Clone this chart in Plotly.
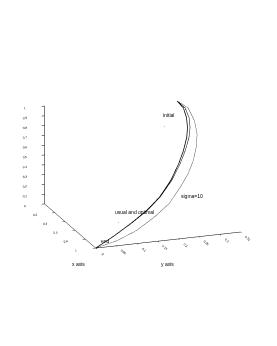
import plotly.graph_objects as go

# Curve data (x, y, z)
usual_x = [0.065, 0.118, 0.187, 0.254, 0.320, 0.408, 0.493, 0.599, 0.703, 0.784, 0.862, 0.930, 1.0]
usual_y = [0.312, 0.321, 0.320, 0.314, 0.304, 0.285, 0.263, 0.231, 0.191, 0.150, 0.101, 0.054, 0.0]
usual_z = [0.935, 0.882, 0.813, 0.746, 0.680, 0.592, 0.507, 0.401, 0.297, 0.216, 0.138, 0.070, 0.0]

optimal_x = [0.065, 0.119, 0.189, 0.256, 0.323, 0.410, 0.495, 0.600, 0.704, 0.785, 0.862, 0.930, 1.0]
optimal_y = [0.312, 0.325, 0.326, 0.320, 0.309, 0.289, 0.266, 0.233, 0.192, 0.151, 0.102, 0.054, 0.0]
optimal_z = [0.935, 0.881, 0.811, 0.744, 0.677, 0.590, 0.505, 0.400, 0.296, 0.215, 0.138, 0.070, 0.0]

sigma_x = [0.065, 0.121, 0.215, 0.305, 0.393, 0.481, 0.566, 0.650, 0.754, 0.833, 0.911, 0.965, 1.0]
sigma_y = [0.312, 0.332, 0.336, 0.331, 0.318, 0.300, 0.277, 0.248, 0.208, 0.163, 0.110, 0.057, 0.0]
sigma_z = [0.935, 0.879, 0.785, 0.695, 0.607, 0.519, 0.434, 0.350, 0.246, 0.167, 0.089, 0.035, 0.0]

x_ticks = [0, 0.2, 0.4, 0.6, 0.8, 1]
y_ticks = [0, 0.05, 0.1, 0.15, 0.2, 0.25, 0.3, 0.35]
z_ticks = [0, 0.1, 0.2, 0.3, 0.4, 0.5, 0.6, 0.7, 0.8, 0.9, 1]

FONT = "Liberation Sans"

fig = go.Figure()
fig.add_trace(go.Scatter3d(x=usual_x, y=usual_y, z=usual_z, mode="lines",
                           line=dict(color="black", width=1.5), name="usual"))
fig.add_trace(go.Scatter3d(x=optimal_x, y=optimal_y, z=optimal_z, mode="lines",
                           line=dict(color="black", width=1), name="optimal"))
fig.add_trace(go.Scatter3d(x=sigma_x, y=sigma_y, z=sigma_z, mode="lines",
                           line=dict(color="#333333", width=0.8), name="sigma=10"))

def ax(ticks, rng):
    return dict(range=rng, tickvals=ticks, ticktext=[("%g" % t) for t in ticks],
                showbackground=False, showgrid=False, zeroline=False,
                showline=True, linecolor="black", linewidth=1,
                ticks="outside", tickcolor="black", ticklen=3,
                tickfont=dict(family=FONT, size=6, color="black"),
                showspikes=False, title=dict(text=""))

s = 0.95 / 1.66
r = 1.75
fig.update_layout(
    width=277, height=346,
    margin=dict(l=0, r=0, t=0, b=0),
    paper_bgcolor="white",
    showlegend=False,
    scene=dict(
        domain=dict(x=[0, 1], y=[0, 1]),
        xaxis=ax(x_ticks, [0, 1]),
        yaxis=ax(y_ticks, [0, 0.35]),
        zaxis=ax(z_ticks, [0, 1]),
        aspectmode="manual",
        aspectratio=dict(x=1.53 * s, y=1.48 * s * 1.05, z=1.0 * s * 1.04),
        camera=dict(projection=dict(type="orthographic"),
                    eye=dict(x=0.910 * r, y=-0.312 * r, z=0.272 * r),
                    up=dict(x=0, y=0, z=1),
                    center=dict(x=0.0075, y=0.0217, z=-0.073)),
    ),
    annotations=[
        dict(text="initial", x=160 / 277, y=1 - 102.5 / 346),
        dict(text=".", x=156 / 277, y=1 - 112 / 346),
        dict(text="usual and optimal", x=126.5 / 277, y=1 - 203.5 / 346),
        dict(text=".", x=110 / 277, y=1 - 213 / 346),
        dict(text="sigma=10", x=196.5 / 277, y=1 - 188 / 346),
        dict(text="end", x=91 / 277, y=1 - 238 / 346),
        dict(text="x axis", x=62 / 277, y=1 - 261 / 346),
        dict(text="y axis", x=159 / 277, y=1 - 261 / 346),
    ],
)
for a in fig.layout.annotations:
    a.update(xref="paper", yref="paper", showarrow=False,
             font=dict(family=FONT, size=5, color="black"))

fig.write_html("out.html")
